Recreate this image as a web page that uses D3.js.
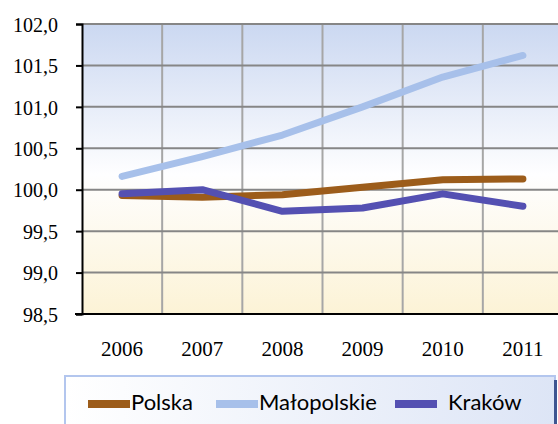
<!DOCTYPE html>
<html>
<head>
<meta charset="utf-8">
<script src="https://cdn.jsdelivr.net/npm/d3@7"></script>
<style>
  body { margin: 0; background: #fff; }
  svg { display: block; }
</style>
</head>
<body>
<svg id="chart"></svg>
<script>
const years = ["2006", "2007", "2008", "2009", "2010", "2011"];
const polska = [99.93, 99.91, 99.94, 100.03, 100.12, 100.13];
const malopolskie = [100.16, 100.40, 100.66, 101.00, 101.36, 101.62];
const krakow = [99.95, 100.00, 99.74, 99.78, 99.95, 99.80];
const yTicks = [98.5, 99.0, 99.5, 100.0, 100.5, 101.0, 101.5, 102.0];

const series = [
  {name: "Polska", values: polska, color: "#9c5c1a"},
  {name: "Małopolskie", values: malopolskie, color: "#a7c0ea"},
  {name: "Kraków", values: krakow, color: "#5450b2"}
];

const width = 558;
const height = 424;
const marginLeft = 82;
const plotRight = 563;
const marginTop = 24;
const plotBottom = 314;

const svg = d3.select("#chart")
  .attr("width", width)
  .attr("height", height)
  .attr("viewBox", [0, 0, width, height]);

const defs = svg.append("defs");
const bg = defs.append("linearGradient")
  .attr("id", "bg").attr("x1", 0).attr("y1", 0).attr("x2", 0).attr("y2", 1);
bg.append("stop").attr("offset", "0%").attr("stop-color", "#cbd8f1");
bg.append("stop").attr("offset", "52%").attr("stop-color", "#fefeff");
bg.append("stop").attr("offset", "100%").attr("stop-color", "#fcf3d6");

const lg = defs.append("linearGradient")
  .attr("id", "lg").attr("x1", 0).attr("y1", 0).attr("x2", 1).attr("y2", 0);
lg.append("stop").attr("offset", "0%").attr("stop-color", "#ffffff");
lg.append("stop").attr("offset", "100%").attr("stop-color", "#dde5f6");

const x = d3.scaleBand()
  .domain(years)
  .range([marginLeft, plotRight]);

const y = d3.scaleLinear()
  .domain([98.5, 102])
  .range([plotBottom, marginTop]);

// plot background
svg.append("rect")
  .attr("x", marginLeft)
  .attr("y", marginTop)
  .attr("width", plotRight - marginLeft)
  .attr("height", plotBottom - marginTop)
  .attr("fill", "url(#bg)");

// vertical grid
svg.append("g")
  .selectAll("line")
  .data(years.slice(1))
  .join("line")
  .attr("x1", d => x(d))
  .attr("x2", d => x(d))
  .attr("y1", marginTop)
  .attr("y2", plotBottom)
  .attr("stroke", "#a6a6a6")
  .attr("stroke-width", 2);

// horizontal grid
svg.append("g")
  .selectAll("line")
  .data(yTicks.slice(1))
  .join("line")
  .attr("x1", marginLeft)
  .attr("x2", plotRight)
  .attr("y1", d => y(d))
  .attr("y2", d => y(d))
  .attr("stroke", "#868686")
  .attr("stroke-width", 2);

// lines
const line = d3.line()
  .x((d, i) => x(years[i]) + x.bandwidth() / 2)
  .y(d => y(d));

svg.append("g")
  .selectAll("path")
  .data(series)
  .join("path")
  .attr("fill", "none")
  .attr("stroke", d => d.color)
  .attr("stroke-width", 7)
  .attr("stroke-linecap", "round")
  .attr("stroke-linejoin", "round")
  .attr("d", d => line(d.values));

// left axis
svg.append("g")
  .attr("transform", `translate(${marginLeft},0)`)
  .call(d3.axisLeft(y).tickValues(yTicks).tickSize(6).tickPadding(18)
    .tickFormat(d => d3.format(".1f")(d).replace(".", ",")))
  .call(g => g.select(".domain").attr("stroke", "#000").attr("stroke-width", 2))
  .call(g => g.selectAll(".tick line").attr("stroke", "#000").attr("stroke-width", 2))
  .call(g => g.selectAll("text")
    .attr("fill", "#000")
    .attr("font-family", "'Liberation Serif', 'Times New Roman', serif")
    .attr("font-size", 20)
    .attr("dy", "0.36em"));

// bottom axis
svg.append("g")
  .attr("transform", `translate(0,${plotBottom})`)
  .call(d3.axisBottom(x).tickSize(0).tickPadding(36))
  .call(g => g.select(".domain").attr("stroke", "#000").attr("stroke-width", 2)
    .attr("d", `M${marginLeft - 7},0H${plotRight}`))
  .call(g => g.selectAll("text")
    .attr("fill", "#000")
    .attr("font-family", "'Liberation Serif', 'Times New Roman', serif")
    .attr("font-size", 21)
    .attr("dy", "0.3em"));

// legend
const legend = svg.append("g");
legend.append("rect")
  .attr("x", 65)
  .attr("y", 376)
  .attr("width", 490)
  .attr("height", 60)
  .attr("fill", "url(#lg)")
  .attr("stroke", "#b3c6ee")
  .attr("stroke-width", 2);
legend.append("rect")
  .attr("x", 554)
  .attr("y", 380)
  .attr("width", 3)
  .attr("height", 50)
  .attr("fill", "#3e5591");

const legendX = [88, 216, 395];
const labelX = [131, 259, 448];
series.forEach((s, i) => {
  legend.append("rect")
    .attr("x", legendX[i])
    .attr("y", 400)
    .attr("width", 42)
    .attr("height", 8)
    .attr("fill", s.color);
  legend.append("text")
    .attr("x", labelX[i])
    .attr("y", 410)
    .attr("font-family", "Lato, 'Open Sans', sans-serif")
    .attr("font-size", 22)
    .attr("fill", "#000")
    .text(s.name);
});
</script>
</body>
</html>
